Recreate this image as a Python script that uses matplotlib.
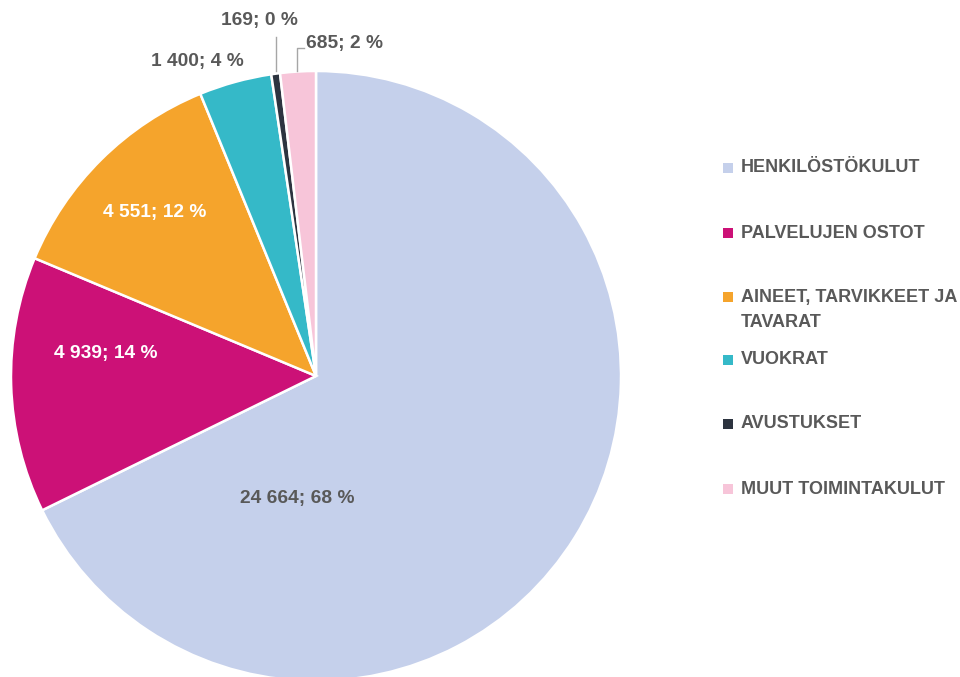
import matplotlib.pyplot as plt
from matplotlib.patches import Rectangle

# Data
categories = ['HENKILÖSTÖKULUT', 'PALVELUJEN OSTOT', 'AINEET, TARVIKKEET JA\nTAVARAT',
              'VUOKRAT', 'AVUSTUKSET', 'MUUT TOIMINTAKULUT']
values = [24664, 4939, 4551, 1400, 169, 685]
percents = [68, 14, 12, 4, 0, 2]
colors = ['#C5D0EB', '#CC1177', '#F5A42C', '#35B9C8', '#2D3440', '#F7C5D9']
label_colors = ['#595959', 'white', 'white', '#595959', '#595959', '#595959']

# label positions (pie radius units) - hand placed like Excel
label_pos = [(-0.06, -0.40), (-0.69, 0.075), (-0.53, 0.535), (-0.39, 1.03),
             (-0.185, 1.165), (0.095, 1.09)]

grey = '#595959'
plt.rcParams['font.family'] = ['Liberation Sans', 'DejaVu Sans']

W, H = 960, 677
fig = plt.figure(figsize=(W / 100, H / 100), dpi=100)
cx, cy, r = 316, 376, 305
ax = fig.add_axes([(cx - r) / W, (H - cy - r) / H, 2 * r / W, 2 * r / H])

ax.pie(values, colors=colors, startangle=90, counterclock=False,
       wedgeprops=dict(edgecolor='white', linewidth=1.8))
ax.set_xlim(-1, 1)
ax.set_ylim(-1, 1)
ax.set_aspect('equal')
ax.axis('off')

def fmt(v):
    return '{:,}'.format(v).replace(',', ' ')

for i, v in enumerate(values):
    x, y = label_pos[i]
    ax.text(x, y, fmt(v) + '; ' + str(percents[i]) + ' %', color=label_colors[i],
            fontsize=13.8, fontweight='bold', ha='center', va='center', clip_on=False)

# leader lines for small slices
ax.plot([-0.131, -0.131], [1.0, 1.11], color='#A6A6A6', lw=1, clip_on=False)
ax.plot([-0.062, -0.062, -0.04], [1.0, 1.075, 1.075], color='#A6A6A6', lw=1, clip_on=False)

# legend
leg_y = [168, 233, 297, 360, 424, 489]
for i, cat in enumerate(categories):
    y = leg_y[i]
    fig.patches.append(Rectangle((723 / W, (H - y - 5) / H), 10 / W, 10 / H,
                                 transform=fig.transFigure, facecolor=colors[i],
                                 edgecolor='none'))
    for j, line in enumerate(cat.split('\n')):
        fig.text(741 / W, (H - y - 26 * j) / H, line, color=grey, fontsize=13,
                 fontweight='bold', ha='left', va='center')

fig.savefig('out.png', dpi=100)
